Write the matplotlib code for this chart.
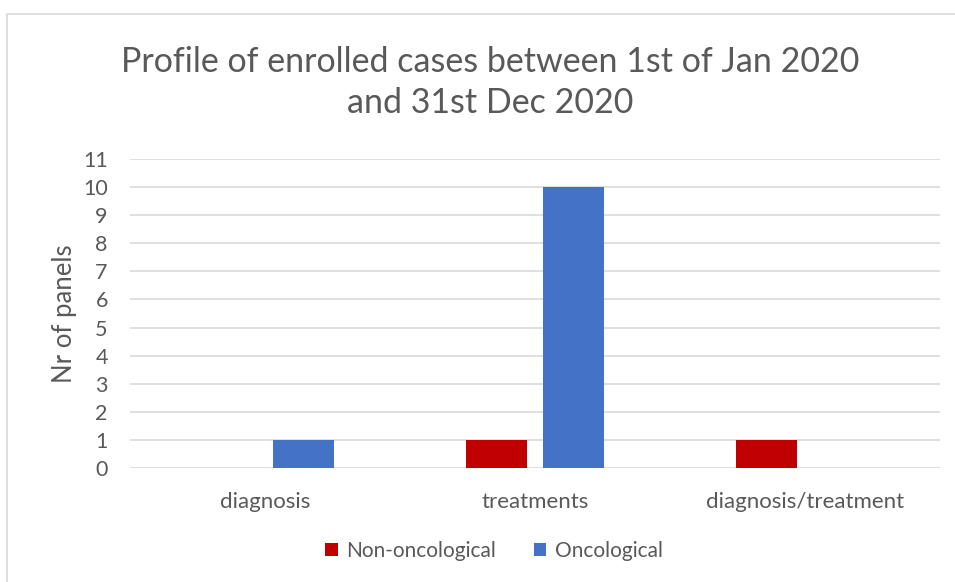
import matplotlib
matplotlib.use("Agg")
import matplotlib.pyplot as plt
import numpy as np
from matplotlib.patches import Rectangle

categories = ["diagnosis", "treatments", "diagnosis/treatment"]
series_names = ["Non-oncological", "Oncological"]
non_onc = [0, 1, 1]
onc = [1, 10, 0]
yticks = list(range(0, 12))

plt.rcParams['font.family'] = ['Lato', 'DejaVu Sans']
txt = '#595959'

fig = plt.figure(figsize=(9.55, 5.82), dpi=100)
W, H = 955, 582
ax = fig.add_axes([130 / W, 1 - 468 / H, 810 / W, (468 - 159) / H])

x = np.arange(len(categories))
bw = 0.226
off = 0.143
ax.bar(x - off, non_onc, width=bw, color='#C00000', label=series_names[0], zorder=3)
ax.bar(x + off, onc, width=bw, color='#4472C4', label=series_names[1], zorder=3)

ax.set_xlim(-0.5, 2.5)
ax.set_ylim(0, 11)
ax.set_yticks(yticks)
ax.set_yticklabels([str(t) for t in yticks], fontsize=15.5, color=txt)
ax.set_xticks(x)
ax.set_xticklabels(categories, fontsize=16, color=txt)
ax.tick_params(axis='both', length=0)
ax.tick_params(axis='y', pad=16)
ax.tick_params(axis='x', pad=17)
ax.grid(axis='y', color='#D9D9D9', linewidth=1.2, zorder=0)
for s in ax.spines.values():
    s.set_visible(False)
ax.set_ylabel("Nr of panels", fontsize=18.5, color=txt, labelpad=4)

fig.text(490 / W, 1 - 62 / H, "Profile of enrolled cases between 1st of Jan 2020",
         ha='center', va='center', fontsize=24.5, color=txt)
fig.text(490 / W, 1 - 103 / H, "and 31st Dec 2020",
         ha='center', va='center', fontsize=24.5, color=txt)

leg = ax.legend(loc='center', bbox_to_anchor=(494 / W, 1 - 551 / H),
                bbox_transform=fig.transFigure, ncol=2, frameon=False,
                fontsize=15, handlelength=0.6, handleheight=0.6,
                handletextpad=0.4, columnspacing=1.8)
for t in leg.get_texts():
    t.set_color(txt)

# chart border
fig.patches.append(Rectangle((7 / W, -0.01), 1.2, 1 - 14 / H + 0.01,
                             transform=fig.transFigure, fill=False,
                             edgecolor='#D9D9D9', linewidth=1.2))

fig.savefig("out.png", dpi=100, facecolor='white')
